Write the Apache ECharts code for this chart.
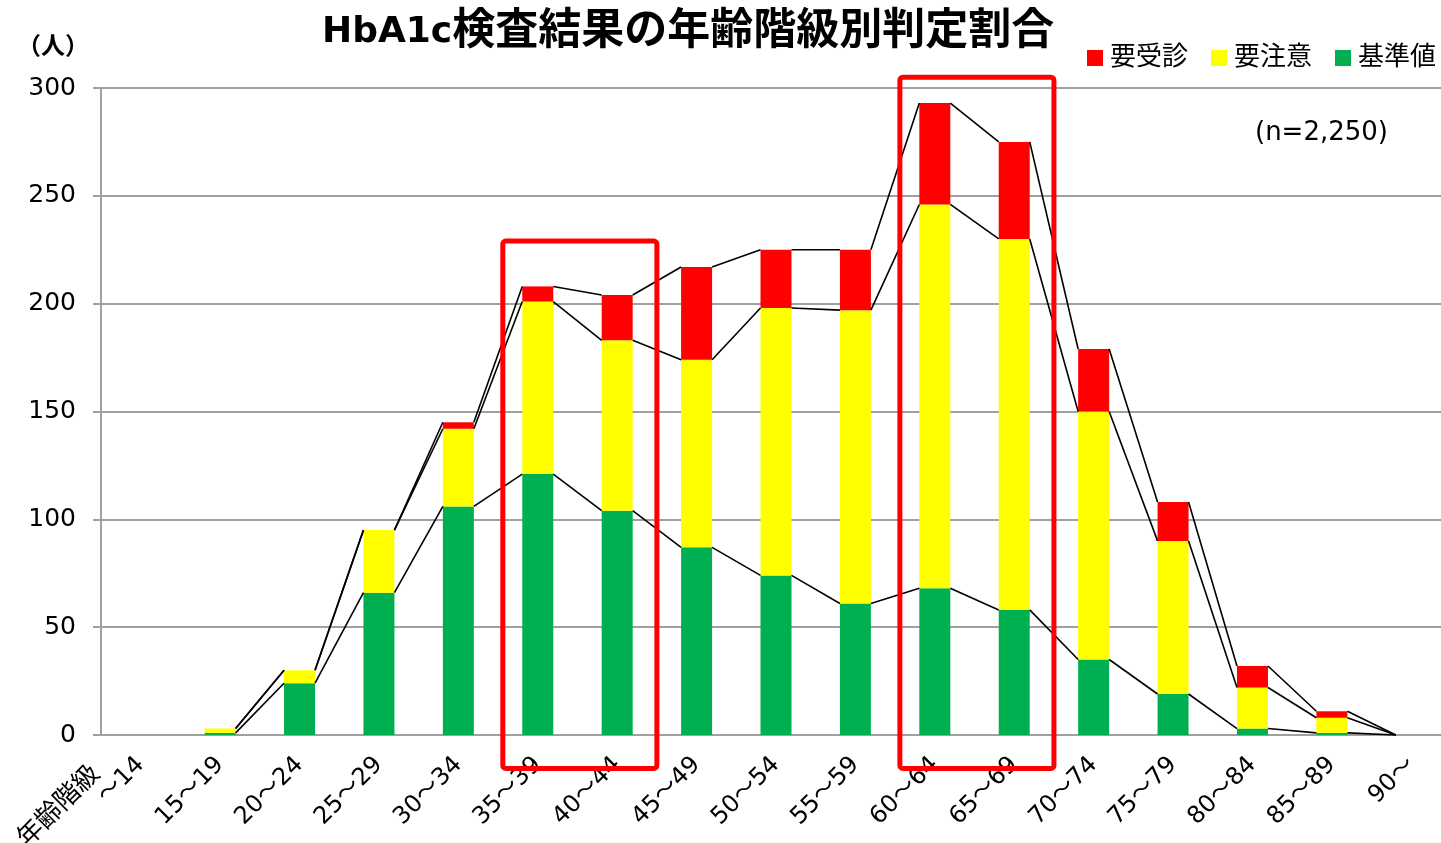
<!DOCTYPE html>
<html>
<head>
<meta charset="utf-8">
<script src="https://cdn.jsdelivr.net/npm/echarts@6/dist/echarts.min.js"></script>
<style>
  html, body { margin: 0; padding: 0; background: #fff; }
  #chart { width: 1441px; height: 843px; }
</style>
</head>
<body>
<div id="chart"></div>
<script>
// 年齢階級
const categories = ['～14', '15～19', '20～24', '25～29', '30～34', '35～39', '40～44', '45～49',
  '50～54', '55～59', '60～64', '65～69', '70～74', '75～79', '80～84', '85～89', '90～'];
// 人数
const normal  = [0, 1, 24, 66, 106, 121, 104, 87, 74, 61, 68, 58, 35, 19, 3, 1, 0];    // 基準値
const caution = [0, 2, 6, 29, 36, 80, 79, 87, 124, 136, 178, 172, 115, 71, 19, 7, 0];  // 要注意
const consult = [0, 0, 0, 0, 3, 7, 21, 43, 27, 28, 47, 45, 29, 18, 10, 3, 0];          // 要受診
const yTicks = [0, 50, 100, 150, 200, 250, 300];
const totalN = '(n=2,250)';
// 強調する年齢階級
const highlights = [['35～39', '40～44', 229], ['60～64', '65～69', 305]];

const FONT = '"DejaVu Sans", "Noto Sans CJK JP", sans-serif';

// 積み上げの累計（区分線用）
const cumG = normal.map(v => v);
const cumY = normal.map((v, i) => v + caution[i]);
const cumT = cumY.map((v, i) => v + consult[i]);
const lineData = [];
for (let i = 0; i < categories.length - 1; i++) {
  if (cumT[i] === 0) continue;
  lineData.push([i, cumG[i], cumY[i], cumT[i], cumG[i + 1], cumY[i + 1], cumT[i + 1]]);
}

const BAR_W = 31;
const chart = echarts.init(document.getElementById('chart'));

const option = {
  animation: false,
  textStyle: { fontFamily: FONT },
  title: {
    text: '{l|HbA1c}{c|検査結果の年齢階級別判定割合}',
    left: 317,
    top: 6,
    textStyle: {
      fontFamily: FONT,
      rich: {
        l: { fontSize: 36, fontWeight: 'bold', color: '#000', fontFamily: FONT, verticalAlign: 'middle' },
        c: { fontSize: 43, fontWeight: 'bold', color: '#000', fontFamily: FONT, verticalAlign: 'middle' }
      }
    }
  },
  legend: {
    data: ['要受診', '要注意', '基準値'],
    right: 0,
    top: 40,
    itemWidth: 16,
    itemHeight: 16,
    itemGap: 23,
    icon: 'rect',
    textStyle: { fontSize: 26, color: '#000', fontFamily: FONT, padding: [0, 0, 0, 2] }
  },
  grid: { left: 101, width: 1350, top: 88, bottom: 108, containLabel: false, outerBoundsMode: 'none' },
  xAxis: {
    type: 'category',
    data: categories,
    axisLine: { lineStyle: { color: '#a0a0a0', width: 2 } },
    axisTick: { show: false },
    axisLabel: { rotate: 45, fontSize: 24, color: '#000', margin: 26, interval: 0, fontFamily: FONT }
  },
  yAxis: {
    type: 'value',
    min: yTicks[0],
    max: yTicks[yTicks.length - 1],
    interval: yTicks[1] - yTicks[0],
    axisLine: { show: true, lineStyle: { color: '#a0a0a0', width: 2 } },
    axisTick: { show: true, length: 8, lineStyle: { color: '#a0a0a0', width: 2 } },
    axisLabel: { fontSize: 25, color: '#000', margin: 25, fontFamily: FONT },
    splitLine: { lineStyle: { color: '#a0a0a0', width: 2 } }
  },
  series: [
    { name: '基準値', type: 'bar', stack: 'all', data: normal, barWidth: BAR_W, itemStyle: { color: '#00B050' } },
    { name: '要注意', type: 'bar', stack: 'all', data: caution, barWidth: BAR_W, itemStyle: { color: '#FFFF00' } },
    { name: '要受診', type: 'bar', stack: 'all', data: consult, barWidth: BAR_W, itemStyle: { color: '#FF0000' } },
    {
      name: '区分線',
      type: 'custom',
      z: 5,
      silent: true,
      data: lineData,
      encode: { x: 0, y: [1, 2, 3, 4, 5, 6] },
      renderItem: function (params, api) {
        const i = api.value(0);
        const half = BAR_W / 2;
        const children = [1, 2, 3].map(k => {
          const a = api.coord([i, api.value(k)]);
          const b = api.coord([i + 1, api.value(k + 3)]);
          return {
            type: 'line',
            shape: { x1: a[0] + half, y1: a[1], x2: b[0] - half, y2: b[1] },
            style: { stroke: '#000', lineWidth: 1.6 }
          };
        });
        return { type: 'group', children: children };
      }
    }
  ]
};
chart.setOption(option);

// 注記・強調枠
function drawExtras() {
  const catW = chart.convertToPixel({ xAxisIndex: 0 }, 1) - chart.convertToPixel({ xAxisIndex: 0 }, 0);
  const boxes = highlights.map(h => {
    const x1 = chart.convertToPixel({ xAxisIndex: 0 }, h[0]) - catW * 0.44;
    const x2 = chart.convertToPixel({ xAxisIndex: 0 }, h[1]) + catW * 0.50;
    const yTop = chart.convertToPixel({ yAxisIndex: 0 }, h[2]);
    const yBot = chart.convertToPixel({ yAxisIndex: 0 }, -15.5);
    return {
      type: 'rect',
      z: 100,
      shape: { x: x1, y: yTop, width: x2 - x1, height: yBot - yTop, r: 3 },
      style: { fill: 'none', stroke: '#FF0000', lineWidth: 5 }
    };
  });
  chart.setOption({
    graphic: boxes.concat([
      {
        type: 'text', x: 17, y: 48, z: 100,
        style: { text: '（人）', font: 'bold 24px ' + FONT, fill: '#000', verticalAlign: 'middle' }
      },
      {
        type: 'text', x: 1255, y: 133, z: 100,
        style: { text: totalN, font: '26px ' + FONT, fill: '#000', verticalAlign: 'middle' }
      },
      {
        type: 'text', x: 96, y: 770, rotation: Math.PI / 4, z: 100,
        style: { text: '年齢階級', font: '26px ' + FONT, fill: '#000', align: 'right', verticalAlign: 'middle' }
      }
    ])
  });
}
drawExtras();
window.onresize = () => { chart.resize(); drawExtras(); };
</script>
</body>
</html>
